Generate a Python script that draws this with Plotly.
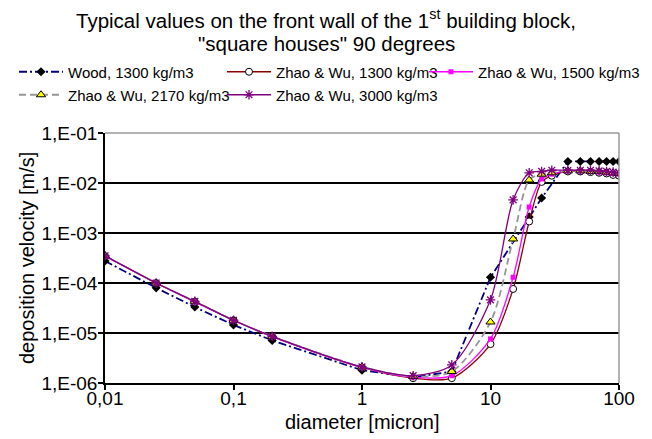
import plotly.graph_objects as go

# ---- data ----
diam_wood = [0.01, 0.025, 0.05, 0.1, 0.2, 1, 2.5, 5, 10, 20, 25, 40, 50, 60, 70, 80, 90, 100]
vel_wood = [2.75e-4, 8.0e-5, 3.3e-5, 1.45e-5, 7.1e-6, 1.8e-6, 1.3e-6, 1.7e-6, 1.3e-4, 2.1e-3,
            5.0e-3, 2.7e-2, 2.7e-2, 2.7e-2, 2.7e-2, 2.7e-2, 2.7e-2, 2.7e-2]

diam_zhao = [0.01, 0.025, 0.05, 0.1, 0.2, 1, 2.5, 5, 10, 15, 20, 25, 30, 40, 50, 60, 70, 80, 90, 100]
vel_zw1300 = [3.45e-4, 1.0e-4, 4.2e-5, 1.8e-5, 8.5e-6, 2.05e-6, 1.25e-6, 1.25e-6, 6.0e-6, 7.6e-5,
              1.7e-3, 1.05e-2, 1.4e-2, 1.7e-2, 1.7e-2, 1.65e-2, 1.6e-2, 1.55e-2, 1.45e-2, 1.4e-2]
vel_zw1500 = [3.45e-4, 1.0e-4, 4.2e-5, 1.8e-5, 8.5e-6, 2.05e-6, 1.3e-6, 1.4e-6, 7.6e-6, 1.3e-4,
              3.3e-3, 1.2e-2, 1.5e-2, 1.75e-2, 1.75e-2, 1.7e-2, 1.65e-2, 1.6e-2, 1.55e-2, 1.5e-2]
vel_zw2170 = [3.5e-4, 1.0e-4, 4.3e-5, 1.8e-5, 8.6e-6, 2.1e-6, 1.35e-6, 1.7e-6, 1.66e-5, 7.6e-4,
              1.15e-2, 1.5e-2, 1.6e-2, 1.75e-2, 1.75e-2, 1.7e-2, 1.7e-2, 1.65e-2, 1.6e-2, 1.55e-2]
vel_zw3000 = [3.5e-4, 1.0e-4, 4.3e-5, 1.8e-5, 8.6e-6, 2.1e-6, 1.4e-6, 2.3e-6, 4.6e-5, 4.6e-3,
              1.6e-2, 1.7e-2, 1.8e-2, 1.8e-2, 1.8e-2, 1.8e-2, 1.75e-2, 1.7e-2, 1.65e-2, 1.6e-2]

x_tickvals = [0.01, 0.1, 1, 10, 100]
x_ticktext = ["0,01", "0,1", "1", "10", "100"]
y_tickvals = [1e-6, 1e-5, 1e-4, 1e-3, 1e-2, 1e-1]
y_ticktext = ["1,E-06", "1,E-05", "1,E-04", "1,E-03", "1,E-02", "1,E-01"]

title_line1 = "Typical values on the front wall of the 1<sup>st</sup> building block,"
title_line2 = "\"square houses\" 90 degrees"
x_title = "diameter [micron]"
y_title = "deposition velocity [m/s]"

FONT = "Liberation Sans, Arial, sans-serif"
W, H = 652, 439
L, R, T, B = 105, 33, 133, 56

fig = go.Figure()

fig.add_trace(go.Scatter(
    x=diam_wood, y=vel_wood, name="Wood, 1300 kg/m3", mode="lines+markers", legend="legend",
    line=dict(color="#000080", width=1.8, dash="8px,3px,2px,3px"),
    marker=dict(symbol="diamond", size=7, color="black", line=dict(width=0)),
))
fig.add_trace(go.Scatter(
    x=diam_zhao, y=vel_zw1300, name="Zhao & Wu, 1300 kg/m3", mode="lines+markers", legend="legend2",
    line=dict(color="#8B0000", width=1.3, shape="spline", smoothing=0.8),
    marker=dict(symbol="circle", size=7, color="white", line=dict(color="black", width=1)),
))
fig.add_trace(go.Scatter(
    x=diam_zhao, y=vel_zw1500, name="Zhao & Wu, 1500 kg/m3", mode="lines+markers", legend="legend3",
    line=dict(color="#FF00FF", width=1.3, shape="spline", smoothing=0.8),
    marker=dict(symbol="square", size=5, color="#FF00FF", line=dict(width=0)),
))
fig.add_trace(go.Scatter(
    x=diam_zhao, y=vel_zw2170, name="Zhao & Wu, 2170 kg/m3", mode="lines+markers", legend="legend4",
    line=dict(color="#969696", width=1.8, dash="7px,4px", shape="spline", smoothing=0.8),
    marker=dict(symbol="triangle-up", size=8, color="#FFFF00", line=dict(color="black", width=1)),
))
fig.add_trace(go.Scatter(
    x=diam_zhao, y=vel_zw3000, name="Zhao & Wu, 3000 kg/m3", mode="lines+markers", legend="legend5",
    line=dict(color="#800080", width=1.3, shape="spline", smoothing=0.8),
    marker=dict(symbol="asterisk-open", size=8, color="#800080", line=dict(color="#800080", width=1.3)),
))


def leg(xpx, ypx):
    return dict(
        orientation="h", x=xpx / W, y=1 - ypx / H, xref="container", yref="container",
        xanchor="left", yanchor="middle",
        font=dict(size=15, family=FONT, color="black"),
        itemwidth=44, bgcolor="rgba(0,0,0,0)", borderwidth=0,
    )


fig.update_layout(
    width=W, height=H,
    margin=dict(l=L, r=R, t=T, b=B, autoexpand=False),
    paper_bgcolor="white", plot_bgcolor="white",
    font=dict(family=FONT, color="black"),
    showlegend=True,
    legend=leg(14, 72),
    legend2=leg(222, 72),
    legend3=leg(424, 72),
    legend4=leg(14, 95),
    legend5=leg(222, 95),
    shapes=[
        dict(type="line", xref="paper", yref="paper", x0=0, x1=1, y0=1, y1=1,
             line=dict(color="#999999", width=1.5), layer="above"),
        dict(type="line", xref="paper", yref="paper", x0=1, x1=1, y0=0, y1=1,
             line=dict(color="#999999", width=1.5), layer="above"),
    ],
    annotations=[
        dict(text=title_line1, xref="paper", yref="paper", x=(W / 2 - L) / (W - L - R),
             y=1 + (T - 19) / (H - T - B), xanchor="center", yanchor="middle", showarrow=False,
             font=dict(size=20.5, family=FONT, color="black")),
        dict(text=title_line2, xref="paper", yref="paper", x=(W / 2 - L) / (W - L - R),
             y=1 + (T - 43) / (H - T - B), xanchor="center", yanchor="middle", showarrow=False,
             font=dict(size=20.5, family=FONT, color="black")),
        dict(text=x_title, xref="paper", yref="paper", x=0.5,
             y=-(422 - (H - B)) / (H - T - B), xanchor="center", yanchor="middle", showarrow=False,
             font=dict(size=20, family=FONT, color="black")),
        dict(text=y_title, xref="paper", yref="paper", x=-(L - 27) / (W - L - R),
             y=0.5, xanchor="center", yanchor="middle", showarrow=False, textangle=-90,
             font=dict(size=20, family=FONT, color="black")),
    ],
)

fig.update_xaxes(
    type="log", range=[-2, 2],
    tickvals=x_tickvals, ticktext=x_ticktext,
    showgrid=False, zeroline=False,
    showline=True, linecolor="black", linewidth=1.5,
    ticks="outside", ticklen=5, tickwidth=1.5, tickcolor="black",
    ticklabelstandoff=-8,
    tickfont=dict(size=19, family=FONT, color="black"),
)
fig.update_yaxes(
    type="log", range=[-6, -1],
    tickvals=y_tickvals, ticktext=y_ticktext,
    showgrid=True, gridcolor="black", gridwidth=1.5,
    zeroline=False,
    showline=True, linecolor="black", linewidth=1.5,
    ticks="outside", ticklen=5, tickwidth=1.5, tickcolor="black",
    ticklabelstandoff=-3,
    tickfont=dict(size=19, family=FONT, color="black"),
)

fig.write_html("out.html")
